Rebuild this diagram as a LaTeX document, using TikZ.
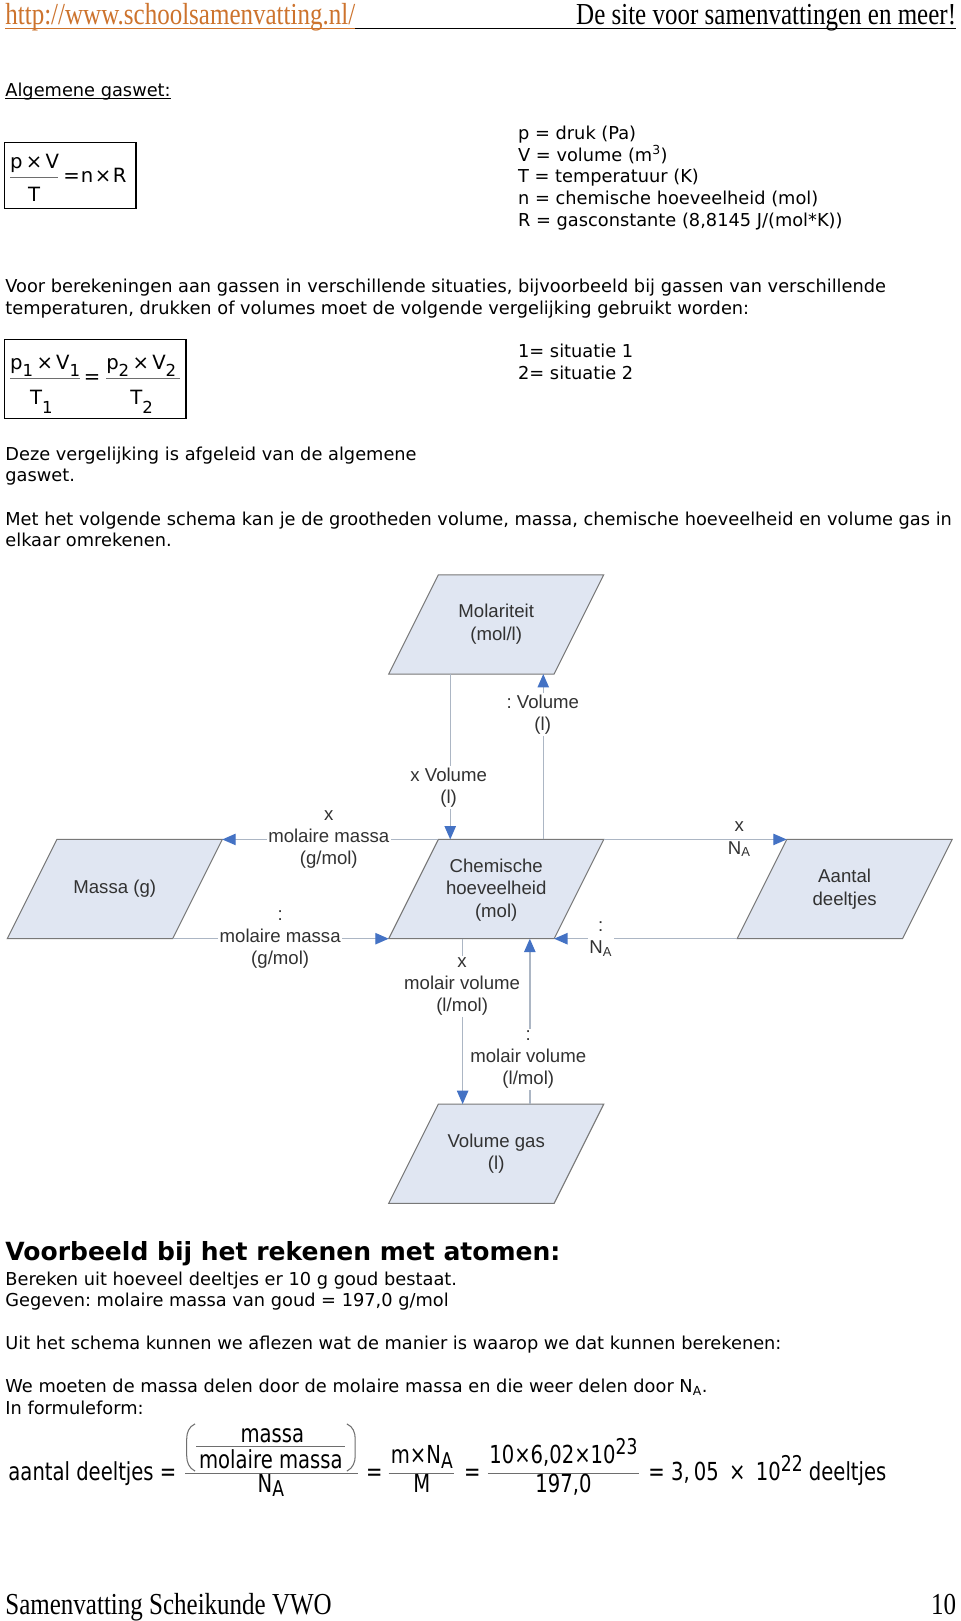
\documentclass[tikz,border=0pt]{standalone}
\usepackage{fontspec}
\setmainfont{DejaVu Sans}
\newfontfamily\hdrfont{Liberation Serif}[FakeStretch=0.82]
\newfontfamily\diafont{Liberation Sans}
\newfontfamily\eqfont{DejaVu Sans}[FakeStretch=0.79]
\usetikzlibrary{arrows.meta}
\definecolor{linkorange}{RGB}{205,115,45}
\definecolor{parafill}{RGB}{224,230,242}
\definecolor{paraedge}{RGB}{120,120,120}
\definecolor{conline}{RGB}{172,182,196}
\definecolor{arrblue}{RGB}{68,114,196}
\definecolor{diatext}{RGB}{50,50,50}
\definecolor{fracgray}{RGB}{110,110,110}
\newcommand\sbs[1]{\raisebox{-6.5pt}{\fontsize{16}{16}\selectfont #1}}
\newcommand\sbd[1]{\raisebox{-9pt}{\fontsize{16}{16}\selectfont #1}}
\newcommand\eqsub[1]{\raisebox{-4pt}{\fontsize{21}{21}\selectfont #1}}
\newcommand\eqsup[1]{\raisebox{9pt}{\fontsize{21}{21}\selectfont #1}}
\newcommand\parallelo[3]{%
  \coordinate (#1-tl) at (#2-56,#3-48);
  \coordinate (#1-tr) at (#2+104,#3-48);
  \coordinate (#1-br) at (#2+56,#3+48);
  \coordinate (#1-bl) at (#2-104,#3+48);
  \draw[para] (#1-tl) -- (#1-tr) -- (#1-br) -- (#1-bl) -- cycle;}
\begin{document}
\frenchspacing
\begin{tikzpicture}[x=1pt,y=-1pt,
  body/.style={anchor=base west,inner sep=0pt,font=\fontsize{17.2}{21}\selectfont},
  hdr/.style={inner sep=0pt,font=\hdrfont\fontsize{29.5}{30}\selectfont},
  para/.style={draw=paraedge,fill=parafill,line width=1pt},
  ptext/.style={align=center,inner sep=0pt,text=diatext,font=\diafont\fontsize{18}{22}\selectfont},
  conn/.style={draw=conline,line width=1.3pt,-{Triangle[length=13pt,width=11pt,color=arrblue]}},
  lbl/.style={align=center,inner sep=1.5pt,fill=white,text=diatext,font=\diafont\fontsize{18}{21.5}\selectfont},
  lblnf/.style={align=center,inner sep=0pt,text=diatext,font=\diafont\fontsize{18}{21.5}\selectfont},
  beq/.style={inner sep=0pt,font=\fontsize{19}{21}\selectfont},
  eq/.style={inner sep=0pt,font=\eqfont\fontsize{24}{26}\selectfont},
  fracline/.style={draw=fracgray,line width=1pt},
  boxline/.style={draw=black,line width=1.2pt}
]
\fill[white] (0,0) rectangle (929,1568);
\useasboundingbox (0,0) rectangle (929,1568);

% ---------- header ----------
\node[hdr,anchor=base west,text=linkorange] (link) at (5,24) {http://www.schoolsamenvatting.nl/};
\node[hdr,anchor=base east] (site) at (925,24) {De site voor samenvattingen en meer!};
\draw[linkorange,line width=1pt] ([yshift=-3.5pt]link.base west) -- ([yshift=-3.5pt]link.base east);
\draw[black,line width=1pt] ([yshift=-3.5pt]link.base east) -- ([yshift=-3.5pt]site.base east);

% ---------- gas law ----------
\node[body] (alg) at (5,93) {Algemene gaswet:};
\draw[line width=0.8pt] ([yshift=-2.5pt]alg.base west) -- ([yshift=-2.5pt]alg.base east);

\draw[boxline] (4,137.5) rectangle (131.5,201.5);
\node[beq,anchor=base west] (b1num) at (9.7,162.6) {p\,×\,V};
\draw[fracline] (9.7,172) -- (56,172);
\node[beq,anchor=base] (b1den) at (33,195) {T};
\node[beq,anchor=base west] (b1rhs) at (61,177) {=\hspace{1pt}n\hspace{1.5pt}×\hspace{1.5pt}R};

\node[body] (l1) at (501,135) {p = druk (Pa)};
\node[body] (l2) at (501,156) {V = volume (m\textsuperscript{3})};
\node[body] (l3) at (501,177) {T = temperatuur (K)};
\node[body] (l4) at (501,198) {n = chemische hoeveelheid (mol)};
\node[body] (l5) at (501,219) {R = gasconstante (8,8145 J/(mol*K))};

\node[body] (p1) at (5,283) {Voor berekeningen aan gassen in verschillende situaties, bijvoorbeeld bij gassen van verschillende};
\node[body] (p2) at (5,304) {temperaturen, drukken of volumes moet de volgende vergelijking gebruikt worden:};

\draw[boxline] (4,328.5) rectangle (180,405);
\node[beq,anchor=base west] (b2n1) at (9.7,357.4) {p\sbs{1}\,×\,V\sbs{1}};
\draw[fracline] (9.7,366) -- (77.4,366);
\node[beq,anchor=base] (b2d1) at (40,391) {T\sbd{1}};
\node[beq] (b2eq) at (89,366.5) {=};
\node[beq,anchor=base west] (b2n2) at (102.6,357.4) {p\sbs{2}\,×\,V\sbs{2}};
\draw[fracline] (102.6,366) -- (174.2,366);
\node[beq,anchor=base] (b2d2) at (137,391) {T\sbd{2}};

\node[body] (s1) at (501,346) {1= situatie 1};
\node[body] (s2) at (501,367) {2= situatie 2};

\node[body] (d1) at (5,445) {Deze vergelijking is afgeleid van de algemene};
\node[body] (d2) at (5,466) {gaswet.};
\node[body] (m1) at (5,508) {Met het volgende schema kan je de grootheden volume, massa, chemische hoeveelheid en volume gas in};
\node[body] (m2) at (5,529) {elkaar omrekenen.};

% ---------- diagram ----------
\parallelo{mol}{480}{604}
\parallelo{chem}{480}{860}
\parallelo{mass}{111}{860}
\parallelo{aant}{817}{860}
\parallelo{vgas}{480}{1116}

\node[ptext] (molt) at (480,603.5) {Molariteit\\(mol/l)};
\node[ptext] (chemt) at (480,861) {Chemische\\hoeveelheid\\(mol)};
\node[ptext] (masst) at (111,860) {Massa (g)};
\node[ptext] (aantt) at (817,860) {Aantal\\deeltjes};
\node[ptext] (vgast) at (480,1116) {Volume gas\\(l)};

\coordinate (molDa) at (435.5,652);
\coordinate (chemDa) at (435.5,812);
\coordinate (chemUa) at (525.5,812);
\coordinate (molUa) at (525.5,652);
\coordinate (chemDb) at (447.5,908);
\coordinate (vgasDb) at (447.5,1068);
\coordinate (vgasUb) at (512.5,1068);
\coordinate (chemUb) at (512.5,908);

\draw[conn] (molDa) -- (chemDa);
\draw[conn] (chemUa) -- (molUa);
\draw[conn] (chem-tl) -- (mass-tr);
\draw[conn] (mass-br) -- (chem-bl);
\draw[conn] (chem-tr) -- (aant-tl);
\draw[conn] (aant-bl) -- (chem-br);
\draw[conn] (chemDb) -- (vgasDb);
\draw[conn] (vgasUb) -- (chemUb);

\node[lbl] (lvin) at (434,762) {x Volume\\(l)};
\node[lbl] (lvout) at (525,691) {: Volume\\(l)};
\node[lbl] (lmmtop) at (318,812) {x\\molaire massa\\(g/mol)};
\node[lbl] (lmmbot) at (271,909) {:\\molaire massa\\(g/mol)};
\node[lblnf] (lnatop) at (715,812) {x\\N\textsubscript{A}};
\node[lbl] (lnabot) at (581,908) {:\\N\textsubscript{A}};
\node[lbl] (lmvin) at (447,954) {x\\molair volume\\(l/mol)};
\node[lbl] (lmvout) at (511,1025) {:\\molair volume\\(l/mol)};

% ---------- example ----------
\node[anchor=base west,inner sep=0pt,font=\bfseries\fontsize{24.2}{26}\selectfont] (vb) at (5,1219) {Voorbeeld bij het rekenen met atomen:};
\node[body] (e1) at (5,1243) {Bereken uit hoeveel deeltjes er 10 g goud bestaat.};
\node[body] (e2) at (5,1264) {Gegeven: molaire massa van goud = 197,0 g/mol};
\node[body] (e3) at (5,1305) {Uit het schema kunnen we aflezen wat de manier is waarop we dat kunnen berekenen:};
\node[body] (e4) at (5,1347) {We moeten de massa delen door de molaire massa en die weer delen door N\textsubscript{A}.};
\node[body] (e5) at (5,1368) {In formuleform:};

\node[eq,anchor=base west] (lhs) at (8,1432) {aantal deeltjes =};
\draw[fracline] (179,1425) -- (346.7,1425);
\draw[fracline] (190,1399) -- (334,1399);
\draw[fracline] (188.7,1377.3) .. controls (182.5,1380) and (180.6,1386) .. (180.6,1392) -- (180.6,1408) .. controls (180.6,1414) and (182.5,1420) .. (188.7,1423);
\draw[fracline] (335.5,1377.3) .. controls (341.7,1380) and (343.6,1386) .. (343.6,1392) -- (343.6,1408) .. controls (343.6,1414) and (341.7,1420) .. (335.5,1423);
\node[eq,anchor=base] (fn1) at (263.5,1395) {massa};
\node[eq,anchor=base] (fn2) at (262,1420) {molaire massa};
\node[eq,anchor=base] (fd1) at (262,1443.5) {N\eqsub{A}};
\node[eq,anchor=base] (eq1) at (362,1432) {=};
\node[eq,anchor=base] (fn3) at (408,1416) {m×N\eqsub{A}};
\draw[fracline] (376,1425) -- (439.4,1425);
\node[eq,anchor=base] (fd3) at (408,1443.5) {M};
\node[eq,anchor=base] (eq2) at (457,1432) {=};
\node[eq,anchor=base] (fn4) at (545,1416) {10×6,02×10\eqsup{23}};
\draw[fracline] (472,1425) -- (618,1425);
\node[eq,anchor=base] (fd4) at (545,1443.5) {197,0};
\node[eq,anchor=base west] (res) at (627,1432) {= 3,\,05 \,×\, 10\eqsup{22} deeltjes};

% ---------- footer ----------
\node[hdr,anchor=base west] (foot) at (5,1562) {Samenvatting Scheikunde VWO};
\node[hdr,anchor=base east] (page) at (925,1562) {10};
\end{tikzpicture}
\end{document}
